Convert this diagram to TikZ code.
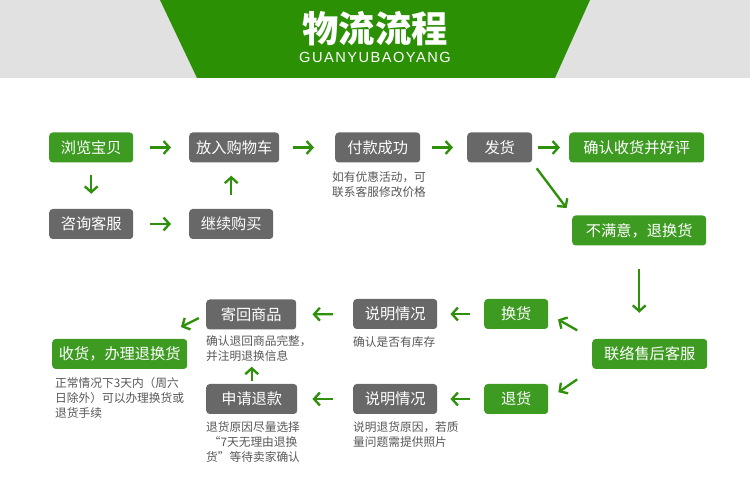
\documentclass[tikz,border=0pt]{standalone}
\usepackage{fontspec}
\setmainfont{Liberation Sans}
\newfontfamily\cjk{Noto Sans CJK SC}
\usepackage{xcolor}
\usetikzlibrary{positioning,arrows.meta}
\newlength\pxu
\setlength\pxu{0.03cm}
\definecolor{bannergreen}{HTML}{2B9003}
\definecolor{boxgreen}{HTML}{3E9B22}
\definecolor{boxgray}{HTML}{686868}
\definecolor{arrowgreen}{HTML}{2F900C}
\definecolor{bandgray}{HTML}{E1E1E1}
\definecolor{notegray}{HTML}{575757}
\tikzset{
  blk/.style  ={rectangle, rounded corners=3pt, inner sep=0pt, anchor=west,
                minimum height=30\pxu, text=white,
                font=\cjk\fontsize{13}{15}\selectfont},
  gblk/.style ={blk, fill=boxgreen},
  kblk/.style ={blk, fill=boxgray},
  note/.style ={anchor=north west, inner sep=0pt, align=left, text=notegray,
                font=\cjk\fontsize{10}{13}\selectfont},
  arr/.style  ={-{Straight Barb[length=5pt,width=11pt]}, line width=2pt, draw=arrowgreen},
}

\begin{document}
\begin{tikzpicture}[x=0.03cm, y=-0.03cm]
  \useasboundingbox (0,0) rectangle (750,489);

  % banner
  \fill[bandgray] (0,0) rectangle (750,78);
  \fill[bannergreen] (160,0) -- (590,0) -- (555,78) -- (197,78) -- cycle;
  \node[text=white, font=\cjk\bfseries\fontsize{31}{33}\selectfont] (title) at (375,29) {物流流程};
  \node[text=white, font=\fontsize{12.5}{15}\selectfont\addfontfeature{LetterSpace=10}] (subtitle) at (375,57) {GUANYUBAOYANG};

  % buying
  \node[gblk, minimum width=84\pxu] (browse) at (49,147.5) {浏览宝贝};
  \node[kblk, minimum width=90\pxu] (cart) at (189,147.5) {放入购物车};
  \node[kblk, minimum width=85\pxu] (pay) at (335,147.5) {付款成功};
  \node[kblk, minimum width=65\pxu] (ship) at (467,147.5) {发货};
  \node[gblk, minimum width=135\pxu] (confirm) at (569,147.5) {确认收货并好评};
  \node[kblk, minimum width=84\pxu] (ask) at (49,224) {咨询客服};
  \node[kblk, minimum width=84\pxu] (keepbuy) at (189,224) {继续购买};
  \node[note] (paynote) at (332,171) {如有优惠活动，可\\联系客服修改价格};

  % after sale
  \node[gblk, minimum width=134\pxu] (unhappy) at (572,230.5) {不满意，退换货};
  \node[gblk, minimum width=115\pxu] (contact) at (592,354) {联络售后客服};
  \node[gblk, minimum width=64\pxu] (exchange) at (484,314) {换货};
  \node[gblk, minimum width=64\pxu] (refund) at (484,399) {退货};
  \node[kblk, minimum width=84\pxu] (explaina) at (353,314) {说明情况};
  \node[kblk, minimum width=84\pxu] (explainb) at (353,399) {说明情况};
  \node[note] (explainanote) at (353,336) {确认是否有库存};
  \node[note] (explainbnote) at (353,421) {说明退货原因，若质\\量问题需提供照片};

  % returns
  \node[kblk, minimum width=90\pxu] (sendback) at (206,314.5) {寄回商品};
  \node[kblk, minimum width=91\pxu] (applyref) at (206,399) {申请退款};
  \node[note] (sendbacknote) at (206,335) {确认退回商品完整，\\并注明退换信息};
  \node[note] (applyrefnote) at (206,421) {退货原因尽量选择\\\ “7天无理由退换\\货”等待卖家确认};
  \node[gblk, minimum width=135\pxu] (receive) at (52,354) {收货，办理退换货};
  \node[note] (receivenote) at (55,377) {正常情况下3天内（周六\\日除外）可以办理换货或\\退货手续};

  % arrows
  \draw[arr, shorten <=17\pxu, shorten >=18\pxu] (browse) -- (cart);
  \draw[arr, shorten <=14\pxu, shorten >=21\pxu] (cart) -- (pay);
  \draw[arr, shorten <=12\pxu, shorten >=14\pxu] (pay) -- (ship);
  \draw[arr, shorten <=6\pxu, shorten >=9\pxu] (ship) -- (confirm);
  \draw[arr, shorten <=12\pxu, shorten >=15\pxu] (browse) -- (ask);
  \draw[arr, shorten <=17\pxu, shorten >=18\pxu] (ask) -- (keepbuy);
  \draw[arr, shorten <=14\pxu, shorten >=13\pxu] (keepbuy.north) -- (keepbuy.north |- cart.south);
  \draw[arr, shorten <=7\pxu, shorten >=9\pxu] (ship.south east) -- (unhappy.north west);
  \draw[arr, shorten <=23\pxu, shorten >=26\pxu] (unhappy.south) -- (unhappy.south |- contact.north);
  \draw[arr, shorten <=17\pxu, shorten >=11\pxu] (contact.north west) -- (exchange.east);
  \draw[arr, shorten <=18\pxu, shorten >=12\pxu] (contact.south west) -- (refund.east);
  \draw[arr, shorten <=14\pxu, shorten >=13\pxu] (exchange) -- (explaina);
  \draw[arr, shorten <=14\pxu, shorten >=13\pxu] (refund) -- (explainb);
  \draw[arr, shorten <=20\pxu, shorten >=16\pxu] (explaina) -- (sendback);
  \draw[arr, shorten <=20\pxu, shorten >=15\pxu] (explainb) -- (applyref);
  \draw[arr, shorten <=3\pxu, shorten >=37\pxu] (applyref.north) -- (applyref.north |- sendback.south);
  \draw[arr, shorten <=8\pxu, shorten >=5\pxu] (sendback.west) -- ([xshift=-11\pxu, yshift=9.5\pxu]receive.north east);
\end{tikzpicture}
\end{document}
